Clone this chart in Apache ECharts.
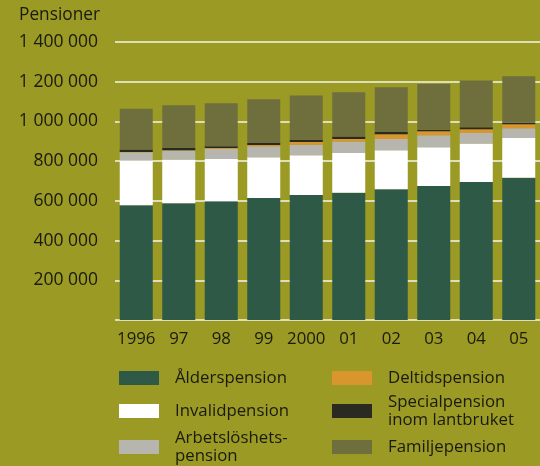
<!DOCTYPE html>
<html>
<head>
<meta charset="utf-8">
<script src="https://cdn.jsdelivr.net/npm/echarts@6/dist/echarts.min.js"></script>
<style>
  html, body { margin: 0; padding: 0; background: #9a9a24; }
  #main { width: 540px; height: 466px; }
</style>
</head>
<body>
<div id="main"></div>
<script>
const years = ['1996', '97', '98', '99', '2000', '01', '02', '03', '04', '05'];
const yTicks = [0, 200000, 400000, 600000, 800000, 1000000, 1200000, 1400000];

const alder = [578000, 588000, 598000, 615000, 630000, 641000, 658000, 675000, 695000, 716000];
const invalid = [225000, 220000, 213000, 205000, 200000, 200000, 197000, 195000, 194000, 200000];
const arbetsloshet = [42000, 45000, 52000, 55000, 53000, 58000, 57000, 60000, 53000, 50000];
const deltid = [1000, 2000, 3000, 6500, 13000, 13000, 23000, 20000, 18500, 20000];
const special = [12500, 13000, 9000, 10000, 12000, 12000, 12000, 8500, 10000, 8500];
const familj = [205000, 213000, 217000, 220000, 223000, 223000, 225000, 230000, 235000, 233000];

const textColor = '#1a1a10';
const font = 'Open Sans';

function spaced(v) {
  return String(v).replace(/\B(?=(\d{3})+(?!\d))/g, ' ');
}

// one legend per item so each one can sit where the original puts it
function legendAt(name, left, top) {
  return {
    data: [name],
    left: left,
    top: top,
    padding: 0,
    icon: 'rect',
    itemWidth: 40,
    itemHeight: 14,
    selectedMode: false,
    textStyle: {
      color: textColor,
      fontFamily: font,
      fontSize: 16.8,
      lineHeight: 18,
      padding: [0, 0, 0, 11]
    }
  };
}

function bar(name, data, color) {
  return {
    name: name,
    type: 'bar',
    stack: 'total',
    barWidth: 33,
    data: data,
    itemStyle: { color: color },
    emphasis: { disabled: true }
  };
}

let option = {
  backgroundColor: '#9a9a24',
  animation: false,
  title: {
    text: 'Pensioner',
    left: 19,
    top: 7,
    padding: 0,
    textStyle: { color: textColor, fontFamily: font, fontSize: 17.3, fontWeight: 'normal' }
  },
  legend: [
    legendAt('Ålderspension', 119, 369),
    legendAt('Invalidpension', 119, 402),
    legendAt('Arbetslöshets-\npension', 119, 429),
    legendAt('Deltidspension', 332, 369),
    legendAt('Specialpension\ninom lantbruket', 332, 393),
    legendAt('Familjepension', 332, 438)
  ],
  grid: {
    left: 115,
    right: -4,
    top: 42,
    bottom: 146
  },
  xAxis: {
    type: 'category',
    data: years,
    axisLine: { show: false },
    axisTick: { show: false },
    axisLabel: { interval: 0, color: textColor, fontFamily: font, fontSize: 16.8, margin: 11 }
  },
  yAxis: {
    type: 'value',
    min: yTicks[0],
    max: yTicks[yTicks.length - 1],
    interval: yTicks[1] - yTicks[0],
    axisLine: { show: false },
    axisTick: { show: false },
    splitLine: { lineStyle: { color: 'rgba(255,255,255,0.9)', width: 1.5 } },
    axisLabel: {
      color: textColor,
      fontFamily: font,
      fontSize: 17.5,
      margin: 17,
      formatter: function (v) { return v === 0 ? '' : spaced(v); }
    }
  },
  series: [
    bar('Ålderspension', alder, '#2d5946'),
    bar('Invalidpension', invalid, '#ffffff'),
    bar('Arbetslöshets-\npension', arbetsloshet, '#b6b6ae'),
    bar('Deltidspension', deltid, '#d8962c'),
    bar('Specialpension\ninom lantbruket', special, '#2a2a22'),
    bar('Familjepension', familj, '#6f6f3e')
  ]
};

let chart = echarts.init(document.getElementById('main'), null, { renderer: 'canvas' });
chart.setOption(option);
</script>
</body>
</html>
